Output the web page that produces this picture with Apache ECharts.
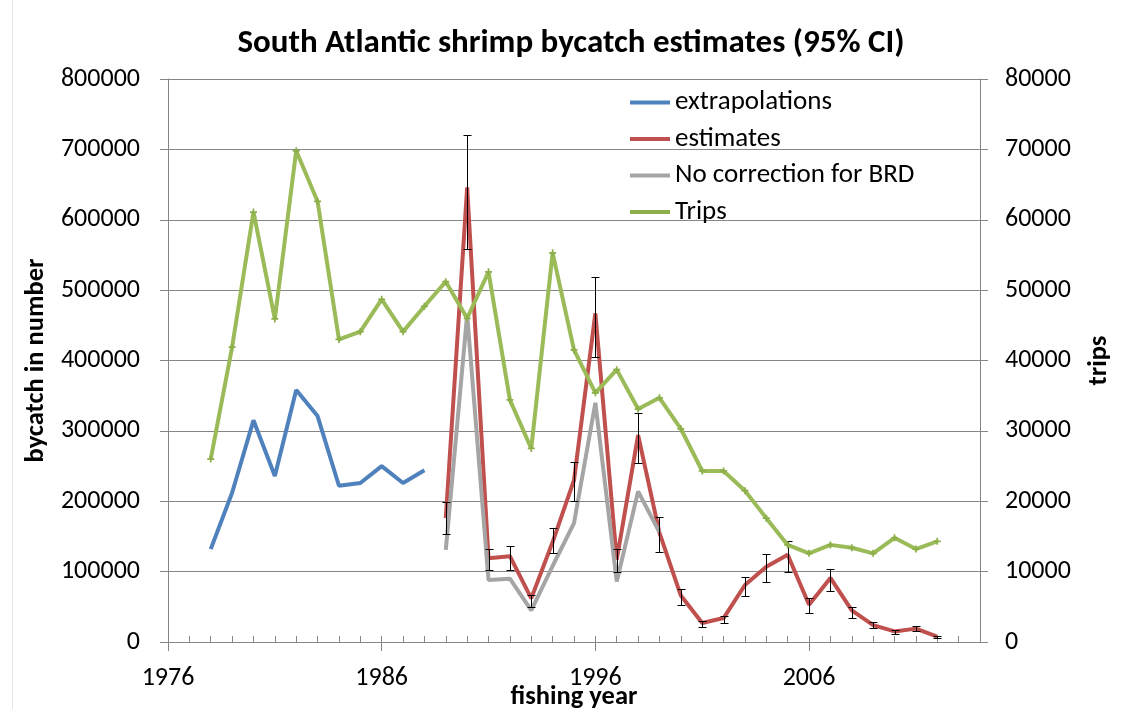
<!DOCTYPE html>
<html>
<head>
<meta charset="utf-8">
<title>South Atlantic shrimp bycatch estimates</title>
<script src="https://cdn.jsdelivr.net/npm/echarts@6/dist/echarts.min.js"></script>
<style>
  html, body { margin: 0; padding: 0; background: #fff; }
  #chart { width: 1125px; height: 709px; }
</style>
</head>
<body>
<div id="chart"></div>
<script>
// Bycatch series (numbers) and fishing effort (trips) by fishing year
const extrapYears = [1978, 1979, 1980, 1981, 1982, 1983, 1984, 1985, 1986, 1987, 1988];
const extrapolations = [132000, 212000, 315000, 236000, 358000, 321000, 222000, 226000, 250000, 226000, 244000];

const estimateYears = [1989, 1990, 1991, 1992, 1993, 1994, 1995, 1996, 1997, 1998, 1999, 2000,
                       2001, 2002, 2003, 2004, 2005, 2006, 2007, 2008, 2009, 2010, 2011, 2012];
const estimates    = [176000, 646000, 119000, 122000, 62000, 142000, 230000, 467000, 117000, 294000, 155000, 66000,
                      27000, 34000, 81000, 107000, 124000, 53000, 91000, 45000, 24000, 15000, 19000, 7500];
const estimateLow  = [154000, 559000, 103000, 103000, 50000, 127000, 200000, 405000, 100000, 255000, 128000, 53000,
                      22000, 27000, 65000, 85000, 99000, 41000, 73000, 34000, 20000, 11000, 15000, 6000];
const estimateHigh = [199000, 720000, 132000, 137000, 67000, 162000, 256000, 518000, 132000, 326000, 178000, 75000,
                      30000, 37000, 93000, 125000, 143000, 62000, 104000, 50000, 28000, 17000, 23000, 9000];

const noCorrYears = [1989, 1990, 1991, 1992, 1993, 1994, 1995, 1996, 1997, 1998, 1999];
const noCorrection = [131000, 465000, 88000, 90000, 45000, 108000, 169000, 340000, 86000, 214000, 156000];

const tripYears = [1978, 1979, 1980, 1981, 1982, 1983, 1984, 1985, 1986, 1987, 1988, 1989, 1990, 1991,
                   1992, 1993, 1994, 1995, 1996, 1997, 1998, 1999, 2000, 2001, 2002, 2003, 2004, 2005,
                   2006, 2007, 2008, 2009, 2010, 2011, 2012];
const trips = [26000, 41900, 61100, 45900, 69800, 62600, 43000, 44100, 48700, 44100, 47700, 51200, 46000, 52600,
               34400, 27500, 55300, 41500, 35400, 38700, 33100, 34700, 30300, 24300, 24300, 21500, 17600, 13800,
               12600, 13800, 13400, 12600, 14800, 13200, 14300];

// Axis tick positions
const yearMin = 1976, yearMax = 2014;
const majorYears = [1976, 1986, 1996, 2006];
const minorYears = [1976, 1977, 1978, 1979, 1980, 1981, 1982, 1983, 1984, 1985, 1986, 1987, 1988,
                    1989, 1990, 1991, 1992, 1993, 1994, 1995, 1996, 1997, 1998, 1999, 2000, 2001,
                    2002, 2003, 2004, 2005, 2006, 2007, 2008, 2009, 2010, 2011, 2012, 2013, 2014];

const FONT = 'Carlito, Lato, "Open Sans", sans-serif';
const AXIS_GRAY = '#868686';
const TEXT = '#000';
const plain = v => String(v);

const pairs = (xs, ys) => xs.map((x, i) => [x, ys[i]]);
const ciData = estimateYears.map((y, i) => [y, estimateLow[i], estimateHigh[i]]);

// Small "+" marker used on the trips line
const plusMarker = 'path://M-1,-4H1V-1H4V1H1V4H-1V1H-4V-1H-1Z';

const chart = echarts.init(document.getElementById('chart'), null, { renderer: 'canvas' });

chart.setOption({
  animation: false,
  backgroundColor: '#fff',
  textStyle: { fontFamily: FONT },
  title: {
    text: 'South Atlantic shrimp bycatch estimates (95% CI)',
    left: 566,
    top: 22,
    textAlign: 'center',
    textStyle: { fontFamily: FONT, fontWeight: 'bold', fontSize: 33, color: TEXT }
  },
  legend: {
    orient: 'vertical',
    left: 625,
    top: 84,
    icon: 'rect',
    itemWidth: 40,
    itemHeight: 4,
    itemGap: 9.5,
    data: ['extrapolations', 'estimates', 'No correction for BRD', 'Trips'],
    textStyle: { fontFamily: FONT, fontSize: 27, color: TEXT, lineHeight: 27 }
  },
  grid: { left: 168, right: 145, top: 79, bottom: 67, containLabel: false, outerBoundsMode: 'none' },
  graphic: [{
    type: 'line',
    shape: { x1: 12.5, y1: 0, x2: 12.5, y2: 709 },
    style: { stroke: '#e4e4e4', lineWidth: 1 },
    silent: true
  }],
  xAxis: [{
    // minor year ticks, drawn inside the plot
    type: 'value',
    min: yearMin, max: yearMax,
    axisLine: { show: true, onZero: false, lineStyle: { color: AXIS_GRAY, width: 1 } },
    axisTick: { show: true, inside: true, length: 6, customValues: minorYears, lineStyle: { color: AXIS_GRAY } },
    axisLabel: { show: false },
    splitLine: { show: false }
  }, {
    // major decade ticks with labels
    type: 'value',
    position: 'bottom',
    min: yearMin, max: yearMax,
    name: 'fishing year',
    nameLocation: 'middle',
    nameGap: 42,
    nameMoveOverlap: false,
    nameTextStyle: { fontFamily: FONT, fontWeight: 'bold', fontSize: 26.5, color: TEXT },
    axisLine: { show: false, onZero: false },
    axisTick: { show: true, inside: false, length: 9, customValues: majorYears, lineStyle: { color: AXIS_GRAY } },
    axisLabel: { show: true, customValues: majorYears, margin: 23, fontFamily: FONT, fontSize: 26, color: TEXT, formatter: plain },
    splitLine: { show: false }
  }],
  yAxis: [{
    type: 'value',
    min: 0, max: 800000, interval: 100000,
    name: 'bycatch in number',
    nameLocation: 'middle',
    nameRotate: 90,
    nameGap: 115,
    nameTextStyle: { fontFamily: FONT, fontWeight: 'bold', fontSize: 26.5, color: TEXT },
    axisLine: { show: true, lineStyle: { color: AXIS_GRAY, width: 1 } },
    axisTick: { show: true, inside: false, length: 8, lineStyle: { color: AXIS_GRAY } },
    axisLabel: { margin: 28, fontFamily: FONT, fontSize: 26, color: TEXT, formatter: plain },
    splitLine: { show: true, lineStyle: { color: AXIS_GRAY, width: 1 } }
  }, {
    type: 'value',
    position: 'right',
    min: 0, max: 80000, interval: 10000,
    name: 'trips',
    nameLocation: 'middle',
    nameRotate: 90,
    nameGap: 106,
    nameTextStyle: { fontFamily: FONT, fontWeight: 'bold', fontSize: 26.5, color: TEXT },
    axisLine: { show: true, lineStyle: { color: AXIS_GRAY, width: 1 } },
    axisTick: { show: true, inside: false, length: 8, lineStyle: { color: AXIS_GRAY } },
    axisLabel: { margin: 25, fontFamily: FONT, fontSize: 26, color: TEXT, formatter: plain },
    splitLine: { show: false }
  }],
  series: [{
    name: 'extrapolations',
    type: 'line',
    xAxisIndex: 0, yAxisIndex: 0,
    data: pairs(extrapYears, extrapolations),
    symbol: 'none',
    lineStyle: { color: '#4F81BD', width: 4 },
    itemStyle: { color: '#4F81BD' },
    z: 2
  }, {
    name: 'estimates',
    type: 'line',
    xAxisIndex: 0, yAxisIndex: 0,
    data: pairs(estimateYears, estimates),
    symbol: 'none',
    lineStyle: { color: '#C0504D', width: 4 },
    itemStyle: { color: '#C0504D' },
    z: 3
  }, {
    name: 'No correction for BRD',
    type: 'line',
    xAxisIndex: 0, yAxisIndex: 0,
    data: pairs(noCorrYears, noCorrection),
    symbol: 'none',
    lineStyle: { color: '#A5A5A5', width: 4 },
    itemStyle: { color: '#A5A5A5' },
    z: 3
  }, {
    name: '95% CI',
    type: 'custom',
    xAxisIndex: 0, yAxisIndex: 0,
    data: ciData,
    encode: { x: 0, y: [1, 2] },
    z: 4,
    renderItem: function (params, api) {
      const x = api.value(0);
      const lo = api.coord([x, api.value(1)]);
      const hi = api.coord([x, api.value(2)]);
      const cx = Math.round(lo[0]) + 0.5;
      const yl = Math.round(lo[1]) + 0.5;
      const yh = Math.round(hi[1]) + 0.5;
      const w = 4;
      const style = { stroke: '#000', lineWidth: 1 };
      return {
        type: 'group',
        children: [
          { type: 'line', shape: { x1: cx, y1: yl, x2: cx, y2: yh }, style: style },
          { type: 'line', shape: { x1: cx - w, y1: yl, x2: cx + w, y2: yl }, style: style },
          { type: 'line', shape: { x1: cx - w, y1: yh, x2: cx + w, y2: yh }, style: style }
        ]
      };
    }
  }, {
    name: 'Trips',
    type: 'line',
    xAxisIndex: 0, yAxisIndex: 1,
    data: pairs(tripYears, trips),
    symbol: plusMarker,
    symbolSize: 7,
    showSymbol: true,
    lineStyle: { color: '#9BBB59', width: 4 },
    itemStyle: { color: '#8DAF4A' },
    z: 5
  }]
});
</script>
</body>
</html>
